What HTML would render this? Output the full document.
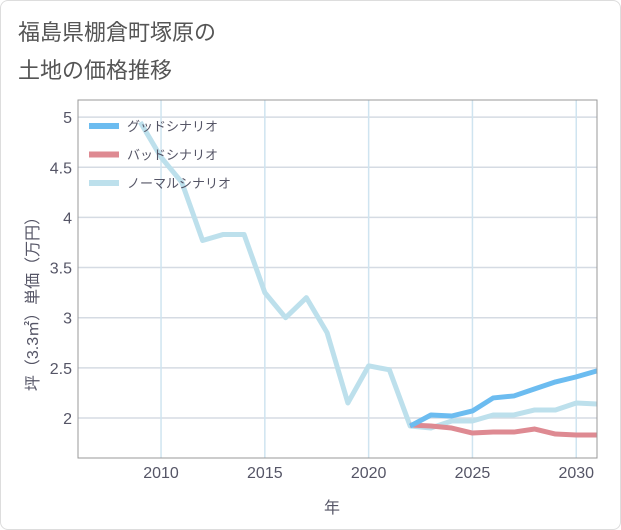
<!DOCTYPE html>
<html><head><meta charset="utf-8"><style>
body{margin:0;background:#fff;font-family:"Liberation Sans","Noto Sans CJK JP",sans-serif}
#card{position:absolute;left:0;top:0;width:619px;height:528px;border:1px solid #ddd;border-radius:8px;background:#fff}
</style></head><body>
<div id="card">
<svg id="chart" width="621" height="530" style="position:absolute;left:-1px;top:-1px">
<text x="18" y="40" font-size="22" fill="#555">福島県棚倉町塚原の</text>
<text x="18" y="78" font-size="22" fill="#555">土地の価格推移</text>
<g id="grid"></g><g id="series"></g><g id="axes"></g><g id="legend"></g>
</svg></div>
<script>
const years=[2009,2010,2011,2012,2013,2014,2015,2016,2017,2018,2019,2020,2021,2022,2023,2024,2025,2026,2027,2028,2029,2030,2031];
const normal=[4.95,4.6,4.35,3.77,3.83,3.83,3.25,3.0,3.2,2.85,2.15,2.52,2.48,1.92,1.9,1.97,1.97,2.03,2.03,2.08,2.08,2.15,2.14];
const fYears=[2022,2023,2024,2025,2026,2027,2028,2029,2030,2031];
const good=[1.92,2.03,2.02,2.07,2.2,2.22,2.29,2.36,2.41,2.47];
const bad=[1.93,1.92,1.9,1.85,1.86,1.86,1.89,1.84,1.83,1.83];
const xTicks=[2010,2015,2020,2025,2030];
const yTicks=[2,2.5,3,3.5,4,4.5,5];
const L=78,R=597,T=100,B=458;
const X=y=>L+(y-2006)*(R-L)/25;
const Y=v=>418-(v-2)*100.3;
const NS='http://www.w3.org/2000/svg';
function mk(p,t,a){const e=document.createElementNS(NS,t);for(const k in a)e.setAttribute(k,a[k]);p.appendChild(e);return e;}
const g=document.getElementById('grid'),s=document.getElementById('series'),ax=document.getElementById('axes'),lg=document.getElementById('legend');
yTicks.forEach(v=>{const l=mk(g,'line',{x1:L,x2:R,y1:Y(v),y2:Y(v),stroke:'#d5dbe3','stroke-width':1.5});


const t=mk(ax,'text',{x:L-6,y:Y(v)+6,'text-anchor':'end','font-size':16,fill:'#556'});t.textContent=v;

});
xTicks.forEach(v=>{const l=mk(g,'line',{x1:X(v),x2:X(v),y1:T,y2:B,stroke:'#cfe4f0','stroke-width':1.5});


const t=mk(ax,'text',{x:X(v),y:B+20,'text-anchor':'middle','font-size':16,fill:'#556'});t.textContent=v;

});
const fr=mk(ax,'rect',{x:L,y:T,width:R-L,height:B-T,fill:'none',stroke:'#999','stroke-width':1});


function line(xs,vs,c,n){const p=mk(s,'polyline',{points:xs.map((y,i)=>X(y)+','+Y(vs[i])).join(' '),fill:'none',stroke:c,'stroke-width':5,'stroke-linejoin':'round'});

}
line(years,normal,'#bde0ec','normal-scenario-line');
line(fYears,bad,'#de8a92','bad-scenario-line');
line(fYears,good,'#6cbcf0','good-scenario-line');
const xt=mk(ax,'text',{x:332,y:513,'text-anchor':'middle','font-size':16,fill:'#556'});xt.textContent='年';


const yt=mk(ax,'text',{x:0,y:0,'text-anchor':'middle','font-size':16,fill:'#556',transform:'translate(38,300) rotate(-90)'});yt.textContent='坪（3.3㎡）単価（万円）';


[['グッドシナリオ','#6cbcf0'],['バッドシナリオ','#de8a92'],['ノーマルシナリオ','#bde0ec']].forEach((d,i)=>{const y=126+i*28.5;
const r=mk(lg,'rect',{x:89,y:y-3,width:30,height:6,fill:d[1]});


const t=mk(lg,'text',{x:127,y:y+5,'font-size':13,fill:'#556'});t.textContent=d[0];

});
</script></body></html>
